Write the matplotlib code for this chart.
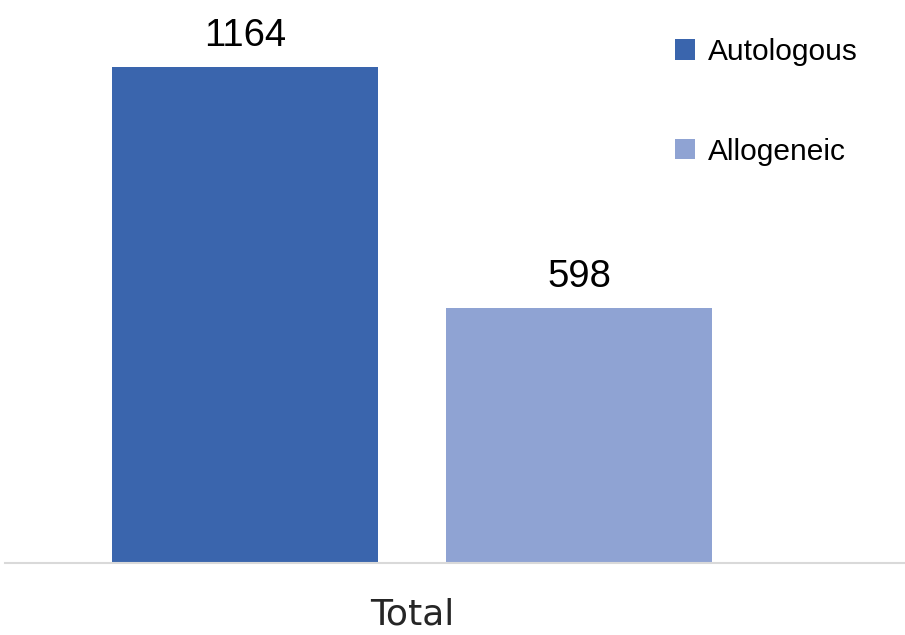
import matplotlib
matplotlib.use("Agg")
import matplotlib.pyplot as plt

categories = ["Total"]
series_names = ["Autologous", "Allogeneic"]
values = [1164, 598]
colors = ["#3A65AD", "#8FA3D3"]

W, H = 905, 635
fig = plt.figure(figsize=(W / 100, H / 100), dpi=100)
ax = fig.add_axes([5 / W, (H - 563) / H, 900 / W, 563 / H])

offsets = [-0.5, 0.5]
width = 266 / 334
bars = []
for name, v, c, off in zip(series_names, values, colors, offsets):
    b = ax.bar([off], [v], width=width, color=c, label=name, zorder=2)
    bars.append(b)
    ax.text(off, v + 1164 * 0.027, str(v), ha="center", va="bottom",
            fontsize=27.5, family=["Liberation Sans", "DejaVu Sans"], color="#000000")

ax.set_xlim(-(412 - 5) / 334, (905 - 412) / 334)
ax.set_ylim(0, 1164 * 563 / 496)

for s in ["top", "right", "left"]:
    ax.spines[s].set_visible(False)
ax.spines["bottom"].set_color("#d9d9d9")
ax.spines["bottom"].set_linewidth(1.5)
ax.set_yticks([])
ax.set_xticks([0])
ax.set_xticklabels(categories, fontsize=26, family=["Liberation Sans Narrow", "DejaVu Sans"], color="#262626")
ax.tick_params(axis="x", length=0, pad=25)

leg = ax.legend(handles=bars, loc="upper left", bbox_to_anchor=(675 / W, 1 - 38 / H),
                bbox_transform=fig.transFigure, frameon=False,
                handlelength=0.67, handleheight=0.67, handletextpad=0.42,
                borderpad=0, borderaxespad=0, labelspacing=2.4,
                prop={"family": "Liberation Sans", "size": 21.5})

fig.savefig("out.png", dpi=100)
